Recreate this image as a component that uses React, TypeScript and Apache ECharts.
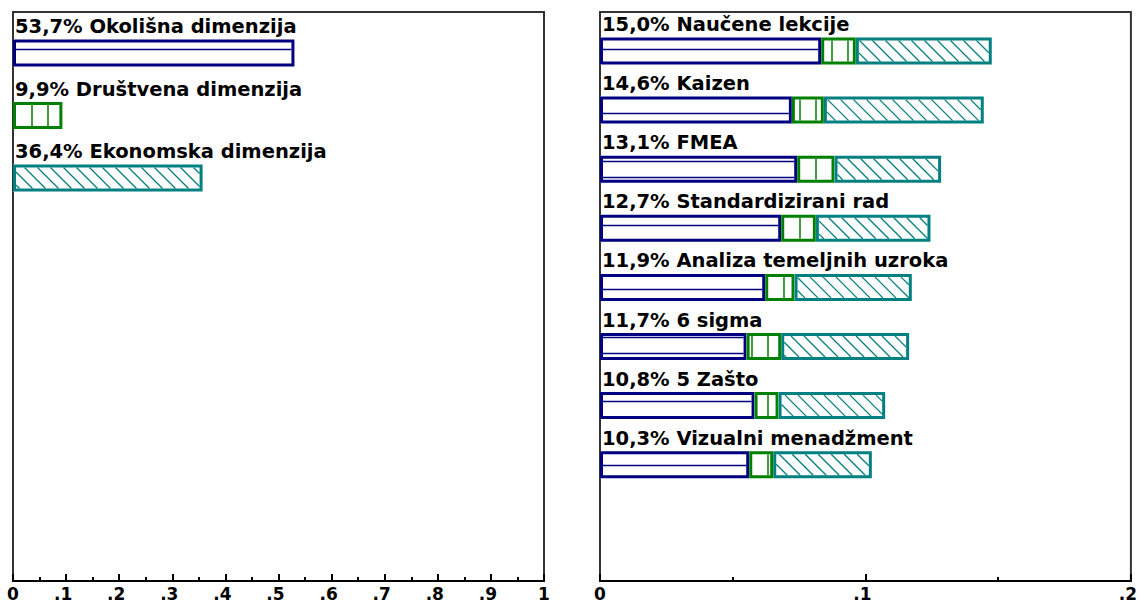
import React, { useEffect, useRef } from "react";
import * as echarts from "echarts";

// ---------- data ----------
const leftCategories = ["Okolišna dimenzija", "Društvena dimenzija", "Ekonomska dimenzija"];
const leftShares = ["53,7%", "9,9%", "36,4%"];
const leftValues = [0.53, 0.093, 0.357];
const leftPatterns = ["horizontal", "vertical", "diagonal"];

const rightCategories = [
  "Naučene lekcije",
  "Kaizen",
  "FMEA",
  "Standardizirani rad",
  "Analiza temeljnih uzroka",
  "6 sigma",
  "5 Zašto",
  "Vizualni menadžment",
];
const rightShares = ["15,0%", "14,6%", "13,1%", "12,7%", "11,9%", "11,7%", "10,8%", "10,3%"];
const rightEnvironmental = [0.083, 0.072, 0.074, 0.068, 0.062, 0.055, 0.058, 0.056];
const rightSocial = [0.013, 0.012, 0.014, 0.013, 0.011, 0.013, 0.009, 0.009];
const rightEconomic = [0.051, 0.06, 0.04, 0.043, 0.044, 0.048, 0.04, 0.037];

const leftTickLabels = ["0", ".1", ".2", ".3", ".4", ".5", ".6", ".7", ".8", ".9", "1"];
const rightTickLabels = ["0", ".1", ".2"];

// ---------- styles ----------
const COLORS: Record<string, string> = {
  horizontal: "#000080",
  vertical: "#008000",
  diagonal: "#008080",
};
const FONT = "DejaVu Sans";
const BAR_H = 27;

function patternChildren(kind: string, x0: number, x1: number, yc: number) {
  const color = COLORS[kind];
  const y0 = yc - BAR_H / 2;
  const y1 = yc + BAR_H / 2;
  const bw = 3;
  const xi0 = x0 + bw;
  const xi1 = x1 - bw;
  const yi0 = y0 + bw;
  const yi1 = y1 - bw;
  const children: any[] = [];
  children.push({
    type: "rect",
    shape: { x: x0, y: y0, width: x1 - x0, height: y1 - y0 },
    style: { fill: "#fff" },
  });
  if (kind === "horizontal") {
    for (let y = Math.ceil((yi0 - 1) / 16) * 16 + 1; y < yi1 - 1; y += 16) {
      children.push({
        type: "line",
        shape: { x1: xi0, y1: y + 0.5, x2: xi1, y2: y + 0.5 },
        style: { stroke: color, lineWidth: 1.5 },
      });
    }
  } else if (kind === "vertical") {
    for (let x = Math.ceil((xi0 + 1) / 16) * 16; x < xi1 - 1; x += 16) {
      children.push({
        type: "line",
        shape: { x1: x, y1: yi0, x2: x, y2: yi1 },
        style: { stroke: color, lineWidth: 1.5 },
      });
    }
  } else {
    const step = 13;
    const cStart = Math.floor((xi0 - yi1) / step) * step;
    for (let c = cStart; c <= xi1 - yi0; c += step) {
      let xs = c + yi0;
      let ys = yi0;
      let xe = c + yi1;
      let ye = yi1;
      if (xs < xi0) {
        ys = yi0 + (xi0 - xs);
        xs = xi0;
      }
      if (xe > xi1) {
        ye = yi1 - (xe - xi1);
        xe = xi1;
      }
      if (xs < xe && ys < ye) {
        children.push({
          type: "line",
          shape: { x1: xs, y1: ys, x2: xe, y2: ye },
          style: { stroke: color, lineWidth: 1.3 },
        });
      }
    }
  }
  children.push({
    type: "rect",
    shape: { x: x0 + bw / 2, y: y0 + bw / 2, width: Math.max(0, x1 - x0 - bw), height: BAR_H - bw },
    style: { fill: "none", stroke: color, lineWidth: bw },
  });
  return children;
}

function segmentSeries(kind: string, data: number[][], xAxisIndex: number, yAxisIndex: number) {
  return {
    type: "custom",
    xAxisIndex,
    yAxisIndex,
    silent: true,
    encode: { x: [1, 2], y: 0 },
    data,
    renderItem: (params: any, api: any) => {
      const cat = api.value(0);
      const p0 = api.coord([api.value(1), cat]);
      const p1 = api.coord([api.value(2), cat]);
      return { type: "group", children: patternChildren(kind, p0[0], p1[0], p0[1]) };
    },
  };
}

function labelSeries(shares: string[], cats: string[], xAxisIndex: number, yAxisIndex: number) {
  return {
    type: "custom",
    xAxisIndex,
    yAxisIndex,
    silent: true,
    encode: { x: 1, y: 0 },
    data: cats.map((_, i) => [i, 0]),
    renderItem: (params: any, api: any) => {
      const i = params.dataIndex;
      const p = api.coord([0, api.value(0)]);
      return {
        type: "text",
        style: {
          text: shares[i] + " " + cats[i],
          x: p[0] + 2,
          y: p[1] - BAR_H / 2 - 3,
          verticalAlign: "bottom",
          align: "left",
          fill: "#000",
          fontFamily: FONT,
          fontWeight: "bold",
          fontSize: 19.5,
        },
      };
    },
  };
}

function frameAxis(gridIndex: number, max: number, interval: number, labels: string[]) {
  return {
    type: "value",
    gridIndex,
    min: 0,
    max,
    interval,
    position: "bottom",
    axisLine: { show: true, lineStyle: { color: "#000", width: 2 } },
    axisTick: { show: true, inside: true, length: 7, lineStyle: { color: "#000", width: 2 } },
    minorTick: { show: true, splitNumber: 2, length: 4, lineStyle: { color: "#000", width: 2 } },
    splitLine: { show: false },
    axisLabel: {
      show: true,
      margin: 4,
      color: "#000",
      fontFamily: FONT,
      fontWeight: "bold",
      fontSize: 17,
      showMinLabel: true,
      showMaxLabel: true,
      hideOverlap: false,
      formatter: (v: number) => {
        const s = labels[Math.round(v / interval)] ?? "";
        return s.startsWith(".") ? s + "{s| }" : s;
      },
      rich: { s: { width: 6, fontSize: 17, fontFamily: FONT } },
    },
  };
}

function hiddenX(gridIndex: number, max: number) {
  return { type: "value", gridIndex, min: 0, max, show: false, splitLine: { show: false } };
}

export default function App() {
  const ref = useRef<HTMLDivElement>(null);
  useEffect(() => {
    if (!ref.current) return;
    const chart = echarts.init(ref.current, undefined, { renderer: "svg" });

    const PANEL_TOP = 12;
    const PANEL_H = 569;
    const LEFT_X = 13;
    const LEFT_W = 531;
    const RIGHT_X = 600;
    const RIGHT_W = 533;
    const LEFT_BAND = 62.5;
    const RIGHT_BAND = 59.1;

    const leftSeries = leftPatterns.map((kind, i) =>
      segmentSeries(kind, [[i, 0, leftValues[i]]], 1, 1)
    );

    const envData = rightEnvironmental.map((v, i) => [i, 0, v]);
    const socData = rightSocial.map((v, i) => [i, rightEnvironmental[i], rightEnvironmental[i] + v]);
    const ecoData = rightEconomic.map((v, i) => [
      i,
      rightEnvironmental[i] + rightSocial[i],
      rightEnvironmental[i] + rightSocial[i] + v,
    ]);

    const option: any = {
      animation: false,
      backgroundColor: "#fff",
      grid: [
        { left: LEFT_X, top: PANEL_TOP, width: LEFT_W, height: PANEL_H, show: true, borderColor: "#333", borderWidth: 2, backgroundColor: "#fff" },
        { left: LEFT_X, top: 53 - LEFT_BAND / 2, width: LEFT_W, height: LEFT_BAND * leftCategories.length },
        { left: RIGHT_X, top: PANEL_TOP, width: RIGHT_W, height: PANEL_H, show: true, borderColor: "#333", borderWidth: 2, backgroundColor: "#fff" },
        { left: RIGHT_X, top: 51 - RIGHT_BAND / 2, width: RIGHT_W, height: RIGHT_BAND * rightCategories.length },
      ],
      xAxis: [
        frameAxis(0, 1, 0.1, leftTickLabels),
        hiddenX(1, 1),
        frameAxis(2, 0.2, 0.1, rightTickLabels),
        hiddenX(3, 0.2),
      ],
      yAxis: [
        { type: "value", gridIndex: 0, show: false, splitLine: { show: false } },
        { type: "category", gridIndex: 1, inverse: true, show: false, data: leftCategories },
        { type: "value", gridIndex: 2, show: false, splitLine: { show: false } },
        { type: "category", gridIndex: 3, inverse: true, show: false, data: rightCategories },
      ],
      series: [
        ...leftSeries,
        labelSeries(leftShares, leftCategories, 1, 1),
        segmentSeries("horizontal", envData, 3, 3),
        segmentSeries("vertical", socData, 3, 3),
        segmentSeries("diagonal", ecoData, 3, 3),
        labelSeries(rightShares, rightCategories, 3, 3),
      ],
    };
    chart.setOption(option);
    return () => chart.dispose();
  }, []);

  return (
    <div
      ref={ref}
      style={{ position: "fixed", left: 0, top: 0, width: 1146, height: 604, background: "#fff" }}
    />
  );
}
